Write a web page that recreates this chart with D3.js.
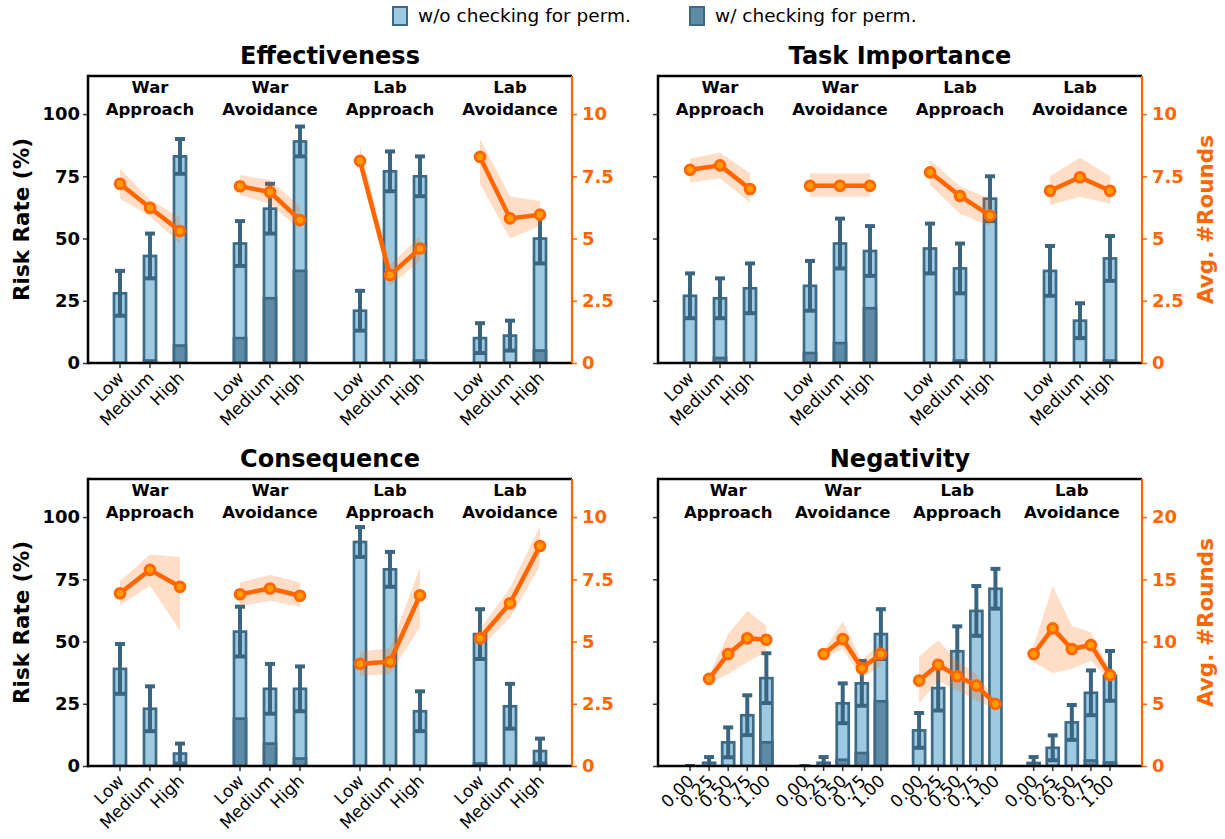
<!DOCTYPE html>
<html><head><meta charset="utf-8">
<script src="https://cdn.jsdelivr.net/npm/d3@7"></script>
<style>
html,body{margin:0;padding:0;background:#fff;}
svg{display:block;font-family:"DejaVu Sans",sans-serif;}
</style></head>
<body>
<svg id="chart" width="1225" height="839"></svg>
<script>
// ---------- data ----------
const groupNames = [["War","Approach"],["War","Avoidance"],["Lab","Approach"],["Lab","Avoidance"]];
const levels3 = ["Low","Medium","High"];
const levels5 = ["0.00","0.25","0.50","0.75","1.00"];
const leftTicks = [0,25,50,75,100];
const roundTicks = [0,2.5,5,7.5,10];
const roundTicksNeg = [0,5,10,15,20];
const legendLabels = ["w/o checking for perm.","w/ checking for perm."];

// Effectiveness
const effRisk   = [28,43,83, 48,62,89, 21,77,75, 10,11,50];
const effErr    = [9,9,7, 9,10,6, 8,8,8, 6,6,10];
const effPerm   = [0,1,7, 10,26,37, 0,0,1, 0,0,5];
const effRounds = [7.2,6.24,5.3, 7.1,6.87,5.74, 8.12,3.53,4.6, 8.28,5.81,5.96];
const effLo     = [6.6,5.9,4.8, 6.75,6.4,5.35, 7.75,3.1,4.1, 7.2,5.0,5.5];
const effHi     = [7.8,6.55,5.85, 7.55,7.35,6.3, 8.7,3.95,5.1, 9.0,6.7,6.5];

// Task Importance
const tiRisk    = [27,26,30, 31,48,45, 46,38,66, 37,17,42];
const tiErr     = [9,8,10, 10,10,10, 10,10,9, 10,7,9];
const tiPerm    = [0,2,0, 4,8,22, 0,1,0, 0,0,1];
const tiRounds  = [7.76,7.94,6.99, 7.12,7.12,7.12, 7.66,6.71,5.92, 6.92,7.46,6.92];
const tiLo      = [7.24,7.42,6.44, 6.68,6.68,6.68, 7.15,6.0,5.5, 6.35,6.68,6.4];
const tiHi      = [8.22,8.45,7.62, 7.62,7.62,7.62, 8.15,7.1,6.6, 7.5,8.26,7.5];

// Consequence
const conRisk   = [39,23,5, 54,31,31, 90,79,22, 53,24,6];
const conErr    = [10,9,4, 10,10,9, 6,7,8, 10,9,5];
const conPerm   = [0,0,0, 19,9,3, 0,0,0, 1,0,1];
const conRounds = [6.94,7.88,7.2, 6.9,7.13,6.84, 4.11,4.19,6.86, 5.13,6.54,8.84];
const conLo     = [6.46,7.24,5.43, 6.43,6.64,6.4, 3.63,3.7,5.57, 4.75,5.95,8.04];
const conHi     = [7.42,8.5,8.4, 7.37,7.68,7.37, 4.59,4.74,7.97, 5.5,7.15,9.64];

// Negativity
const negRisk   = [0,1.3,9.5,20.4,35.3, 0,1.3,25.2,33.2,53, 14.3,31.3,46.1,62.3,71.2, 1.2,7.3,17.5,29.4,36.2];
const negErr    = [0,2.3,6,8,10, 0,2.3,8,9,10, 7,9,10,10,8, 2.4,5,7,9,10];
const negPerm   = [0,0,0,0,9.5, 0,0,2.5,5.2,26, 0,0,0,0,0, 0,0,0,2.2,1.4];
const negRounds = [null,7.0,9.0,10.26,10.15, null,9.0,10.2,7.85,9.0, 6.86,8.14,7.21,6.46,4.99, 9.0,11.06,9.4,9.72,7.3];
const negLo     = [null,6.7,7.4,8.33,9.2, null,8.7,9.4,7.1,8.06, 5.05,6.86,6.06,5.26,4.6, 8.33,7.45,7.8,8.46,6.86];
const negHi     = [null,7.3,10.6,12.47,11.27, null,9.3,11.6,8.5,9.94, 8.78,10.1,8.46,7.4,5.3, 9.66,14.47,11.27,10.74,7.66];

// ---------- styles ----------
const C = {light:"#9ecae1", dark:"#5e8ca7", edge:"#3d6a86", err:"#3a6580",
           orange:"#ff6600", markerFill:"#ff9c00", black:"#000"};
const W = 484, H = 287;

const panels = [
  {title:"Effectiveness", levels:levels3, risk:effRisk, err:effErr, perm:effPerm, rounds:effRounds, lo:effLo, hi:effHi,
   rmax:11.53, rticks:roundTicks, x:88, y:76, leftLabels:true, rightTitle:false},
  {title:"Task Importance", levels:levels3, risk:tiRisk, err:tiErr, perm:tiPerm, rounds:tiRounds, lo:tiLo, hi:tiHi,
   rmax:11.53, rticks:roundTicks, x:658, y:76, leftLabels:false, rightTitle:true},
  {title:"Consequence", levels:levels3, risk:conRisk, err:conErr, perm:conPerm, rounds:conRounds, lo:conLo, hi:conHi,
   rmax:11.53, rticks:roundTicks, x:88, y:479, leftLabels:true, rightTitle:false},
  {title:"Negativity", levels:levels5, risk:negRisk, err:negErr, perm:negPerm, rounds:negRounds, lo:negLo, hi:negHi,
   rmax:23.06, rticks:roundTicksNeg, x:658, y:479, leftLabels:false, rightTitle:true},
];

const svg = d3.select("#chart");

// legend
const leg = svg.append("g");
const legX = [393, 690];
legendLabels.forEach((t,i)=>{
  leg.append("rect").attr("x",legX[i]).attr("y",7).attr("width",14).attr("height",18)
    .attr("fill", i===0?C.light:C.dark).attr("stroke",C.edge).attr("stroke-width",2);
  leg.append("text").attr("x",legX[i]+25).attr("y",16).attr("dy","0.35em")
    .attr("font-size",18.5).attr("fill","#000").text(t);
});

panels.forEach((p,pi)=>{
  const n = p.levels.length;
  const g = svg.append("g").attr("transform",`translate(${p.x},${p.y})`);
  const clipId = "clip"+pi;
  g.append("clipPath").attr("id",clipId).append("rect").attr("width",W).attr("height",H);

  const slots = [];
  groupNames.forEach((gn,gi)=>p.levels.forEach((lv,li)=>slots.push({gi,li,idx:gi*n+li,slot:gi*(n+1)+li,label:lv})));
  const x = d3.scaleLinear().domain([0,4*(n+1)-2]).range([32,W-32]);
  const y = d3.scaleLinear().domain([0,115.3]).range([H,0]);
  const yr = d3.scaleLinear().domain([0,p.rmax]).range([H,0]);
  const bw = 12;

  const plot = g.append("g").attr("clip-path",`url(#${clipId})`);

  // bars
  plot.selectAll("rect.light").data(slots).join("rect").attr("class","light")
    .attr("x",d=>x(d.slot)-bw/2).attr("width",bw)
    .attr("y",d=>y(p.risk[d.idx])).attr("height",d=>H-y(p.risk[d.idx]))
    .attr("fill",C.light).attr("stroke",C.edge).attr("stroke-width",2.7);
  plot.selectAll("rect.dark").data(slots.filter(d=>p.perm[d.idx]>0)).join("rect").attr("class","dark")
    .attr("x",d=>x(d.slot)-bw/2).attr("width",bw)
    .attr("y",d=>y(p.perm[d.idx])).attr("height",d=>H-y(p.perm[d.idx]))
    .attr("fill",C.dark).attr("stroke",C.edge).attr("stroke-width",2.7);

  // error bars
  const eb = plot.append("g").attr("stroke",C.err);
  slots.forEach(d=>{
    const v = p.risk[d.idx], e = p.err[d.idx], cx = x(d.slot);
    eb.append("line").attr("x1",cx).attr("x2",cx).attr("y1",y(v-e)).attr("y2",y(v+e)).attr("stroke-width",4);
    [v-e,v+e].forEach(c=>eb.append("line").attr("x1",cx-5).attr("x2",cx+5).attr("y1",y(c)).attr("y2",y(c)).attr("stroke-width",4));
  });

  // rounds band + line
  for(let gi=0; gi<4; gi++){
    const pts = slots.filter(d=>d.gi===gi && p.rounds[d.idx]!=null);
    plot.append("path").datum(pts)
      .attr("d", d3.area().x(d=>x(d.slot)).y0(d=>yr(p.lo[d.idx])).y1(d=>yr(p.hi[d.idx])))
      .attr("fill",C.orange).attr("fill-opacity",0.22).attr("stroke","none");
    plot.append("path").datum(pts)
      .attr("d", d3.line().x(d=>x(d.slot)).y(d=>yr(p.rounds[d.idx])))
      .attr("fill","none").attr("stroke",C.orange).attr("stroke-width",4.5).attr("stroke-linejoin","round");
    plot.selectAll(null).data(pts).join("circle")
      .attr("cx",d=>x(d.slot)).attr("cy",d=>yr(p.rounds[d.idx])).attr("r",4.8)
      .attr("fill",C.markerFill).attr("stroke",C.orange).attr("stroke-width",3);
  }

  // group labels
  groupNames.forEach((gn,gi)=>{
    const cx = x(gi*(n+1)+(n-1)/2);
    gn.forEach((t,k)=>g.append("text").attr("x",cx).attr("y",17+22*k).attr("text-anchor","middle")
      .attr("font-size",16.5).attr("font-weight","bold").attr("fill","#000").text(t));
  });

  // left axis
  const la = g.append("g").call(d3.axisLeft(y).tickValues(leftTicks).tickSize(5).tickPadding(3)
      .tickFormat(p.leftLabels? d3.format("d") : ()=>""));
  la.select(".domain").remove();
  la.selectAll("line").attr("stroke","#333").attr("stroke-width",1.5);
  la.selectAll("text").attr("font-size",18).attr("font-weight","bold").attr("fill","#000").attr("font-family","DejaVu Sans");

  // right axis
  const ra = g.append("g").attr("transform",`translate(${W},0)`)
    .call(d3.axisRight(yr).tickValues(p.rticks).tickSize(5).tickPadding(5).tickFormat(d=>String(d)));
  ra.select(".domain").remove();
  ra.selectAll("line").attr("stroke",C.orange).attr("stroke-width",1.5);
  ra.selectAll("text").attr("font-size",18).attr("font-weight","bold").attr("fill",C.orange).attr("font-family","DejaVu Sans");

  // bottom axis
  const ba = g.append("g").attr("transform",`translate(0,${H})`);
  slots.forEach(d=>{
    const cx = x(d.slot);
    ba.append("line").attr("x1",cx).attr("x2",cx).attr("y1",0).attr("y2",5).attr("stroke","#333").attr("stroke-width",1.5);
    ba.append("text").attr("transform",`translate(${cx+5},${16}) rotate(-45)`)
      .attr("text-anchor","end").attr("font-size",17).attr("fill","#000").text(d.label);
  });

  // spines
  g.append("line").attr("x1",0).attr("x2",W).attr("y1",0).attr("y2",0).attr("stroke","#000").attr("stroke-width",2.5);
  g.append("line").attr("x1",0).attr("x2",W).attr("y1",H).attr("y2",H).attr("stroke","#000").attr("stroke-width",2.5);
  g.append("line").attr("x1",0).attr("x2",0).attr("y1",-1.25).attr("y2",H+1.25).attr("stroke","#000").attr("stroke-width",2.5);
  g.append("line").attr("x1",W).attr("x2",W).attr("y1",0).attr("y2",H).attr("stroke",C.orange).attr("stroke-width",2.2);

  // title
  g.append("text").attr("x",W/2).attr("y",-12).attr("text-anchor","middle")
    .attr("font-size",24).attr("font-weight","bold").attr("fill","#000").text(p.title);

  // axis titles
  if(p.leftLabels){
    g.append("text").attr("transform",`translate(${29-p.x},${H/2}) rotate(-90)`).attr("text-anchor","middle")
      .attr("font-size",21.5).attr("font-weight","bold").attr("fill","#000").text("Risk Rate (%)");
  }
  if(p.rightTitle){
    g.append("text").attr("transform",`translate(${1213-p.x},${H/2}) rotate(-90)`).attr("text-anchor","middle")
      .attr("font-size",21.5).attr("font-weight","bold").attr("fill",C.orange).text("Avg. #Rounds");
  }
});
</script>
</body></html>
